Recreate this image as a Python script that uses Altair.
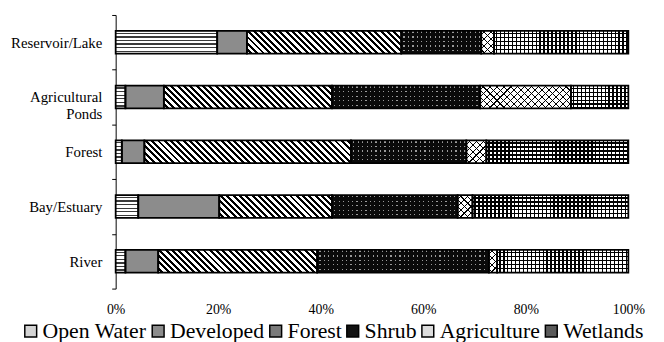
import math
import altair as alt

# ---- data (percent of each land-cover class within each waterbody type) ----
categories = ["Reservoir/Lake", "Agricultural Ponds", "Forest", "Bay/Estuary", "River"]
series = ["Open Water", "Developed", "Forest", "Shrub", "Agriculture", "Wetlands"]
open_water = [19.8, 1.9, 1.2, 4.4, 1.9]
developed = [5.8, 7.5, 4.4, 15.8, 6.4]
forest = [30.1, 32.8, 40.3, 22.0, 31.0]
shrub = [15.6, 28.9, 22.5, 24.5, 33.5]
agriculture = [2.5, 17.7, 3.9, 2.9, 1.6]
wetlands = [26.2, 11.2, 27.7, 30.4, 25.6]
tick_values = [0, 20, 40, 60, 80, 100]
legend_grays = ["#d4d4d4", "#8c8c8c", "#7a7a7a", "#111111", "#dddddd", "#5a5a5a"]

series_values = {
    "Open Water": open_water,
    "Developed": developed,
    "Forest": forest,
    "Shrub": shrub,
    "Agriculture": agriculture,
    "Wetlands": wetlands,
}

PLOT_W, PLOT_H = 519, 277
BAR_H = 23
FONT = "Liberation Serif"
CLEAR = "rgba(0,0,0,0)"


def _r(v):
    return round(max(0.0, min(1.0, v)), 5)


def stripes(length, period, width, line, bg):
    stops = [{"offset": 0, "color": bg}]
    pos = period / 2.0
    while pos < length:
        a = pos / length
        b = (pos + width) / length
        stops += [
            {"offset": _r(a), "color": bg},
            {"offset": _r(a), "color": line},
            {"offset": _r(b), "color": line},
            {"offset": _r(b), "color": bg},
        ]
        pos += period
    stops.append({"offset": 1, "color": bg})
    return stops


def horiz_lines(w, h, period, width, line, bg):
    return {"gradient": "linear", "x1": 0, "y1": 0, "x2": 0, "y2": 1,
            "stops": stripes(h, period, width, line, bg)}


def vert_lines(w, h, period, width, line, bg):
    return {"gradient": "linear", "x1": 0, "y1": 0, "x2": 1, "y2": 0,
            "stops": stripes(w, period, width, line, bg)}


def diag_back(w, h, period, width, line, bg):
    k = (w + h) / (w * w + h * h)
    return {"gradient": "linear", "x1": 0, "y1": 1, "x2": round(k * w, 6),
            "y2": round(1 - k * h, 6), "stops": stripes(w + h, period, width, line, bg)}


def diag_fwd(w, h, period, width, line, bg):
    k = (w + h) / (w * w + h * h)
    return {"gradient": "linear", "x1": 0, "y1": 0, "x2": round(k * w, 6),
            "y2": round(k * h, 6), "stops": stripes(w + h, period, width, line, bg)}


def base_fill(s, w, h):
    if s == "Open Water":
        return horiz_lines(w, h, 3.6, 1.3, "#3a3a3a", "#ffffff")
    if s == "Developed":
        return "#8c8c8c"
    if s == "Forest":
        return diag_back(w, h, 6.4, 3.0, "#000000", "#ffffff")
    if s == "Shrub":
        return vert_lines(w, h, 4.5, 1.2, "#9a9a9a", "#0a0a0a")
    if s == "Agriculture":
        return diag_back(w, h, 7.0, 1.1, "#000000", "#ffffff")
    return vert_lines(w, h, 4.0, 1.5, "#000000", "#ffffff")


def over_fill(s, w, h):
    if s == "Shrub":
        return horiz_lines(w, h, 4.5, 3.3, "#0a0a0a", CLEAR)
    if s == "Agriculture":
        return diag_fwd(w, h, 7.0, 1.1, "#000000", CLEAR)
    if s == "Wetlands":
        return horiz_lines(w, h, 4.0, 1.5, "#000000", CLEAR)
    return None


base_rows, over_rows = [], []
for i, c in enumerate(categories):
    cum = 0.0
    for s in series:
        v = series_values[s][i]
        w = v / 100.0 * PLOT_W
        row = {"cat": c, "series": s, "start": cum, "end": cum + v}
        base_rows.append(dict(row, pat=base_fill(s, w, BAR_H)))
        o = over_fill(s, w, BAR_H)
        if o is not None:
            over_rows.append(dict(row, pat=o))
        cum += v

y_enc = alt.Y(
    "cat:N",
    sort=categories,
    scale=alt.Scale(paddingInner=0, paddingOuter=0),
    axis=alt.Axis(
        title=None, tickBand="extent", tickSize=4, tickColor="black",
        domainColor="black", domainWidth=1, tickWidth=1, grid=False,
        labelFont=FONT, labelFontSize=15, labelColor="black", labelPadding=10,
        labelExpr="split(datum.label, ' ')", labelLineHeight=17, labelLimit=200,
    ),
)
x_enc = alt.X(
    "start:Q",
    stack=None,
    scale=alt.Scale(domain=[0, 100], nice=False),
    axis=alt.Axis(
        title=None, values=tick_values, labelExpr="datum.value + '%'",
        domain=False, ticks=False, grid=False, labelFont=FONT, labelFontSize=14,
        labelColor="black", labelPadding=14, labelFlush=False,
    ),
)

base_layer = alt.Chart(alt.Data(values=base_rows)).mark_bar(height=BAR_H).encode(
    y=y_enc, x=x_enc, x2="end:Q", fill=alt.Fill("pat:N", scale=None)
)
over_layer = alt.Chart(alt.Data(values=over_rows)).mark_bar(height=BAR_H).encode(
    y=y_enc, x=x_enc, x2="end:Q", fill=alt.Fill("pat:N", scale=None)
)
outline_layer = alt.Chart(alt.Data(values=base_rows)).mark_bar(
    height=BAR_H, stroke="black", strokeWidth=1.8
).encode(
    y=y_enc, x=x_enc, x2="end:Q",
    fillOpacity=alt.value(0),
    color=alt.Color(
        "series:N",
        scale=alt.Scale(domain=series, range=legend_grays),
        legend=alt.Legend(
            title=None, orient="none", legendX=-97, legendY=309,
            direction="horizontal", symbolType="square", symbolSize=144,
            labelFont=FONT, labelFontSize=22, labelColor="black",
            labelOffset=1, columnPadding=-3, padding=0,
            symbolStrokeColor="black",
        ),
    ),
)

chart = alt.layer(base_layer, over_layer, outline_layer).properties(
    width=PLOT_W, height=PLOT_H,
    autosize=alt.AutoSizeParams(type="none"),
    padding={"left": 109, "top": 5, "right": 28, "bottom": 52},
).configure(font=FONT, background="white").configure_view(stroke=None)

chart.save("out.html", embed_options={"renderer": "svg", "actions": False})
